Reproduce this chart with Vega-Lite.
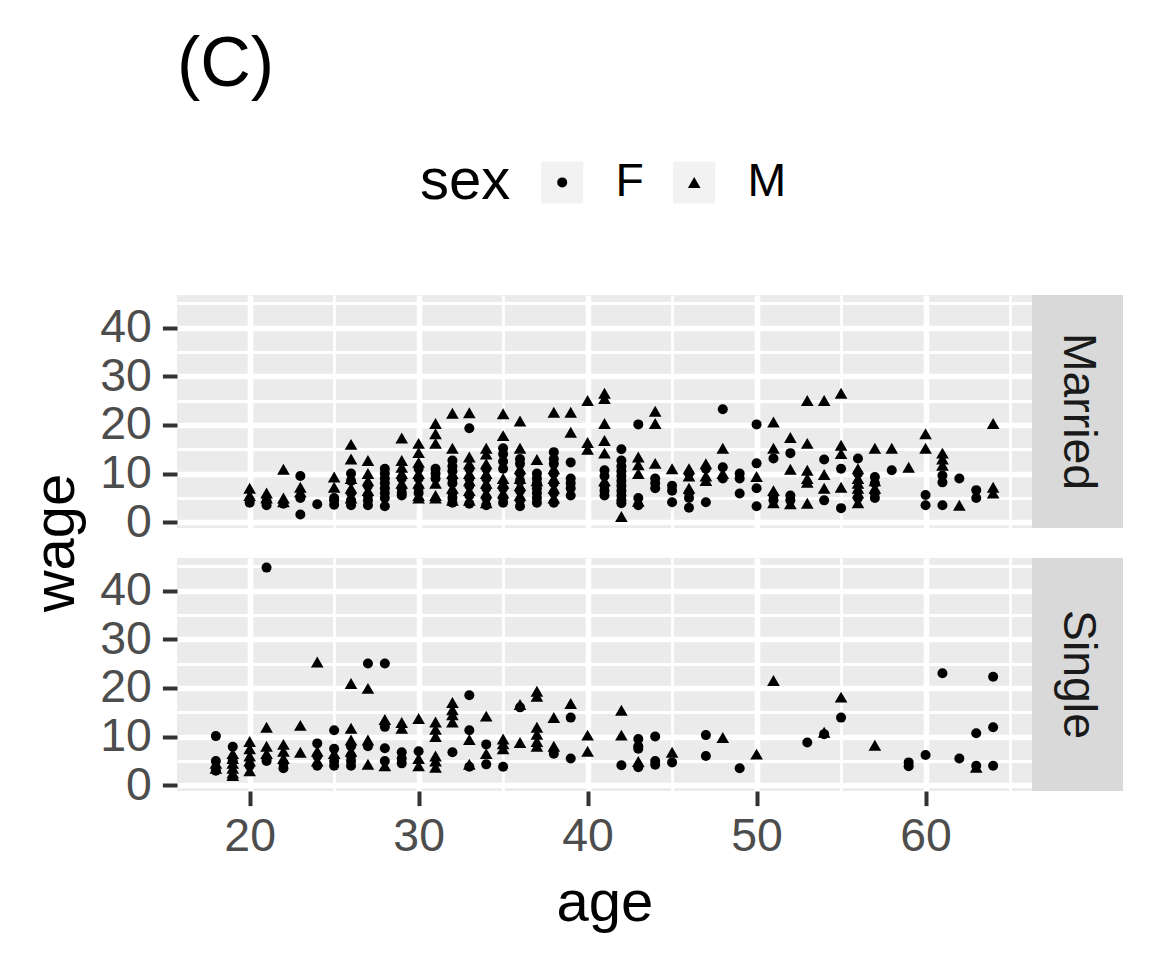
{
  "$schema": "https://vega.github.io/schema/vega-lite/v6.json",
  "background": "white",
  "padding": {"left": 27, "top": 30, "right": 29, "bottom": 20},
  "bounds": "flush",
  "columns": 2,
  "spacing": {"row": 30, "column": 0},
  "title": {"text": "(C)", "anchor": "start", "frame": "group", "fontSize": 70, "font": "Liberation Sans", "fontWeight": "normal", "color": "black", "offset": 58},
  "config": {
    "font": "Liberation Sans",
    "view": {"fill": "#ebebeb", "stroke": null},
    "axis": {"domain": false, "gridColor": "white", "labelFont": "Liberation Sans", "labelFontSize": 46.4, "labelColor": "#4d4d4d", "tickColor": "#333333", "tickWidth": 4, "tickSize": 14.6, "titleFont": "Liberation Sans", "titleFontSize": 58, "titleFontWeight": "normal", "titleColor": "black"}
  },
  "datasets": {
    "married": [
      {"age":20,"wage":7,"sex":"M"},{"age":20,"wage":5.5,"sex":"M"},{"age":20,"wage":4.5,"sex":"F"},{"age":20,"wage":4,"sex":"F"},
      {"age":21,"wage":6,"sex":"M"},{"age":21,"wage":5,"sex":"M"},{"age":21,"wage":4.3,"sex":"F"},{"age":21,"wage":3.5,"sex":"F"},
      {"age":22,"wage":10.9,"sex":"M"},{"age":22,"wage":5,"sex":"M"},{"age":22,"wage":4.2,"sex":"M"},{"age":22,"wage":3.8,"sex":"F"},
      {"age":23,"wage":9.5,"sex":"F"},{"age":23,"wage":7.2,"sex":"M"},{"age":23,"wage":6.2,"sex":"M"},{"age":23,"wage":5,"sex":"F"},{"age":23,"wage":1.6,"sex":"F"},
      {"age":24,"wage":3.7,"sex":"F"},
      {"age":25,"wage":9.3,"sex":"M"},{"age":25,"wage":7.2,"sex":"M"},{"age":25,"wage":5,"sex":"F"},{"age":25,"wage":4.5,"sex":"F"},{"age":25,"wage":3.6,"sex":"F"},
      {"age":26,"wage":16,"sex":"M"},{"age":26,"wage":13,"sex":"M"},{"age":26,"wage":10,"sex":"F"},{"age":26,"wage":9,"sex":"M"},{"age":26,"wage":8.5,"sex":"F"},{"age":26,"wage":7,"sex":"M"},{"age":26,"wage":6,"sex":"F"},{"age":26,"wage":5,"sex":"M"},{"age":26,"wage":4.5,"sex":"F"},{"age":26,"wage":3.5,"sex":"F"},
      {"age":27,"wage":12.7,"sex":"M"},{"age":27,"wage":10,"sex":"M"},{"age":27,"wage":8.5,"sex":"M"},{"age":27,"wage":7.5,"sex":"F"},{"age":27,"wage":6.5,"sex":"M"},{"age":27,"wage":5.5,"sex":"F"},{"age":27,"wage":4.5,"sex":"F"},{"age":27,"wage":3.5,"sex":"F"},
      {"age":28,"wage":11,"sex":"F"},{"age":28,"wage":10,"sex":"F"},{"age":28,"wage":9,"sex":"F"},{"age":28,"wage":8,"sex":"F"},{"age":28,"wage":7,"sex":"F"},{"age":28,"wage":6,"sex":"F"},{"age":28,"wage":5,"sex":"F"},{"age":28,"wage":3.3,"sex":"F"},
      {"age":29,"wage":17.3,"sex":"M"},{"age":29,"wage":12.7,"sex":"M"},{"age":29,"wage":11.3,"sex":"M"},{"age":29,"wage":10,"sex":"M"},{"age":29,"wage":9,"sex":"F"},{"age":29,"wage":8,"sex":"M"},{"age":29,"wage":7,"sex":"F"},{"age":29,"wage":6,"sex":"F"},{"age":29,"wage":5.5,"sex":"F"},
      {"age":30,"wage":16.2,"sex":"M"},{"age":30,"wage":14.3,"sex":"M"},{"age":30,"wage":12.3,"sex":"M"},{"age":30,"wage":11,"sex":"F"},{"age":30,"wage":10,"sex":"M"},{"age":30,"wage":9,"sex":"F"},{"age":30,"wage":8,"sex":"M"},{"age":30,"wage":7,"sex":"F"},{"age":30,"wage":6,"sex":"F"},{"age":30,"wage":5.5,"sex":"M"},{"age":30,"wage":5,"sex":"M"},
      {"age":31,"wage":20.3,"sex":"M"},{"age":31,"wage":18.2,"sex":"M"},{"age":31,"wage":16.2,"sex":"M"},{"age":31,"wage":11,"sex":"F"},{"age":31,"wage":10,"sex":"F"},{"age":31,"wage":9,"sex":"F"},{"age":31,"wage":8,"sex":"M"},{"age":31,"wage":5.5,"sex":"M"},{"age":31,"wage":5,"sex":"M"},
      {"age":32,"wage":22.4,"sex":"M"},{"age":32,"wage":15.2,"sex":"M"},{"age":32,"wage":12.7,"sex":"F"},{"age":32,"wage":11.5,"sex":"F"},{"age":32,"wage":10.5,"sex":"F"},{"age":32,"wage":10,"sex":"M"},{"age":32,"wage":9,"sex":"F"},{"age":32,"wage":8,"sex":"F"},{"age":32,"wage":7,"sex":"M"},{"age":32,"wage":6,"sex":"F"},{"age":32,"wage":5,"sex":"F"},{"age":32,"wage":4.5,"sex":"M"},{"age":32,"wage":4,"sex":"F"},
      {"age":33,"wage":22.5,"sex":"M"},{"age":33,"wage":19.3,"sex":"F"},{"age":33,"wage":13.4,"sex":"M"},{"age":33,"wage":12,"sex":"M"},{"age":33,"wage":11,"sex":"F"},{"age":33,"wage":10,"sex":"M"},{"age":33,"wage":9,"sex":"F"},{"age":33,"wage":8.5,"sex":"M"},{"age":33,"wage":7.5,"sex":"F"},{"age":33,"wage":6.5,"sex":"M"},{"age":33,"wage":5.5,"sex":"F"},{"age":33,"wage":4.5,"sex":"M"},{"age":33,"wage":3.8,"sex":"F"},
      {"age":34,"wage":15.2,"sex":"M"},{"age":34,"wage":14,"sex":"M"},{"age":34,"wage":12,"sex":"M"},{"age":34,"wage":11,"sex":"F"},{"age":34,"wage":10,"sex":"M"},{"age":34,"wage":9,"sex":"F"},{"age":34,"wage":8,"sex":"M"},{"age":34,"wage":7,"sex":"F"},{"age":34,"wage":6,"sex":"M"},{"age":34,"wage":5,"sex":"F"},{"age":34,"wage":4,"sex":"M"},{"age":34,"wage":3.5,"sex":"F"},
      {"age":35,"wage":22.3,"sex":"M"},{"age":35,"wage":17.8,"sex":"M"},{"age":35,"wage":15.2,"sex":"F"},{"age":35,"wage":14,"sex":"F"},{"age":35,"wage":12.5,"sex":"F"},{"age":35,"wage":11,"sex":"F"},{"age":35,"wage":9,"sex":"M"},{"age":35,"wage":8,"sex":"M"},{"age":35,"wage":7,"sex":"F"},{"age":35,"wage":6,"sex":"M"},{"age":35,"wage":5,"sex":"F"},{"age":35,"wage":4,"sex":"F"},
      {"age":36,"wage":20.8,"sex":"M"},{"age":36,"wage":15.2,"sex":"M"},{"age":36,"wage":13,"sex":"F"},{"age":36,"wage":12,"sex":"F"},{"age":36,"wage":11,"sex":"M"},{"age":36,"wage":10,"sex":"F"},{"age":36,"wage":9,"sex":"M"},{"age":36,"wage":8.5,"sex":"F"},{"age":36,"wage":7.5,"sex":"M"},{"age":36,"wage":6.5,"sex":"F"},{"age":36,"wage":5.5,"sex":"M"},{"age":36,"wage":4.5,"sex":"F"},{"age":36,"wage":3.3,"sex":"F"},
      {"age":37,"wage":12.9,"sex":"M"},{"age":37,"wage":10,"sex":"F"},{"age":37,"wage":9,"sex":"F"},{"age":37,"wage":8.5,"sex":"M"},{"age":37,"wage":8,"sex":"F"},{"age":37,"wage":7,"sex":"F"},{"age":37,"wage":6,"sex":"F"},{"age":37,"wage":5,"sex":"F"},{"age":37,"wage":4,"sex":"F"},
      {"age":38,"wage":22.6,"sex":"M"},{"age":38,"wage":14.4,"sex":"F"},{"age":38,"wage":13,"sex":"F"},{"age":38,"wage":12,"sex":"F"},{"age":38,"wage":11,"sex":"M"},{"age":38,"wage":10,"sex":"F"},{"age":38,"wage":9,"sex":"M"},{"age":38,"wage":8,"sex":"F"},{"age":38,"wage":7,"sex":"M"},{"age":38,"wage":6,"sex":"F"},{"age":38,"wage":5,"sex":"M"},{"age":38,"wage":4,"sex":"F"},
      {"age":39,"wage":22.6,"sex":"M"},{"age":39,"wage":18.5,"sex":"M"},{"age":39,"wage":12.3,"sex":"F"},{"age":39,"wage":9,"sex":"F"},{"age":39,"wage":8,"sex":"F"},{"age":39,"wage":7,"sex":"F"},{"age":39,"wage":5.5,"sex":"F"},
      {"age":40,"wage":25,"sex":"M"},{"age":40,"wage":16.4,"sex":"M"},{"age":40,"wage":15,"sex":"M"},
      {"age":41,"wage":26.5,"sex":"M"},{"age":41,"wage":25.4,"sex":"M"},{"age":41,"wage":20.3,"sex":"M"},{"age":41,"wage":16.8,"sex":"M"},{"age":41,"wage":14.2,"sex":"M"},{"age":41,"wage":10.7,"sex":"F"},{"age":41,"wage":9.5,"sex":"F"},{"age":41,"wage":8.5,"sex":"M"},{"age":41,"wage":7.5,"sex":"F"},{"age":41,"wage":6.5,"sex":"F"},{"age":41,"wage":5.5,"sex":"F"},
      {"age":42,"wage":15,"sex":"F"},{"age":42,"wage":12.7,"sex":"F"},{"age":42,"wage":11.5,"sex":"F"},{"age":42,"wage":10.5,"sex":"F"},{"age":42,"wage":9.5,"sex":"F"},{"age":42,"wage":8.5,"sex":"F"},{"age":42,"wage":7.5,"sex":"F"},{"age":42,"wage":6.5,"sex":"F"},{"age":42,"wage":5.5,"sex":"F"},{"age":42,"wage":4.5,"sex":"F"},{"age":42,"wage":3.9,"sex":"F"},{"age":42,"wage":1.2,"sex":"M"},
      {"age":43,"wage":20.1,"sex":"F"},{"age":43,"wage":13.4,"sex":"M"},{"age":43,"wage":11.8,"sex":"M"},{"age":43,"wage":10,"sex":"M"},{"age":43,"wage":5,"sex":"F"},{"age":43,"wage":4.3,"sex":"M"},{"age":43,"wage":3.5,"sex":"F"},
      {"age":44,"wage":22.8,"sex":"M"},{"age":44,"wage":20.3,"sex":"M"},{"age":44,"wage":12.1,"sex":"M"},{"age":44,"wage":9,"sex":"F"},{"age":44,"wage":8,"sex":"F"},{"age":44,"wage":7,"sex":"F"},
      {"age":45,"wage":11,"sex":"M"},{"age":45,"wage":7.5,"sex":"F"},{"age":45,"wage":6.5,"sex":"F"},{"age":45,"wage":4.1,"sex":"F"},
      {"age":46,"wage":11,"sex":"M"},{"age":46,"wage":10,"sex":"F"},{"age":46,"wage":9.5,"sex":"M"},{"age":46,"wage":7,"sex":"M"},{"age":46,"wage":6,"sex":"F"},{"age":46,"wage":5,"sex":"F"},{"age":46,"wage":3,"sex":"F"},
      {"age":47,"wage":12,"sex":"M"},{"age":47,"wage":11,"sex":"F"},{"age":47,"wage":9.5,"sex":"M"},{"age":47,"wage":8.6,"sex":"M"},{"age":47,"wage":4.1,"sex":"F"},
      {"age":48,"wage":23.2,"sex":"F"},{"age":48,"wage":15.2,"sex":"M"},{"age":48,"wage":11.3,"sex":"F"},{"age":48,"wage":10,"sex":"M"},{"age":48,"wage":9,"sex":"F"},
      {"age":49,"wage":10,"sex":"F"},{"age":49,"wage":9,"sex":"F"},{"age":49,"wage":5.9,"sex":"F"},
      {"age":50,"wage":20.1,"sex":"F"},{"age":50,"wage":12.1,"sex":"F"},{"age":50,"wage":9.4,"sex":"M"},{"age":50,"wage":7,"sex":"F"},{"age":50,"wage":3.3,"sex":"F"},
      {"age":51,"wage":20.6,"sex":"M"},{"age":51,"wage":15.2,"sex":"M"},{"age":51,"wage":13.1,"sex":"F"},{"age":51,"wage":6.5,"sex":"M"},{"age":51,"wage":5.5,"sex":"F"},{"age":51,"wage":4.5,"sex":"F"},{"age":51,"wage":4,"sex":"M"},
      {"age":52,"wage":17.4,"sex":"M"},{"age":52,"wage":14.2,"sex":"F"},{"age":52,"wage":10.9,"sex":"M"},{"age":52,"wage":5.5,"sex":"F"},{"age":52,"wage":4.5,"sex":"F"},{"age":52,"wage":3.8,"sex":"M"},
      {"age":53,"wage":25,"sex":"M"},{"age":53,"wage":16.2,"sex":"M"},{"age":53,"wage":10.7,"sex":"M"},{"age":53,"wage":9,"sex":"M"},{"age":53,"wage":8.2,"sex":"M"},{"age":53,"wage":3.9,"sex":"M"},
      {"age":54,"wage":25,"sex":"M"},{"age":54,"wage":12.9,"sex":"F"},{"age":54,"wage":9.8,"sex":"M"},{"age":54,"wage":7,"sex":"M"},{"age":54,"wage":4.5,"sex":"F"},
      {"age":55,"wage":26.5,"sex":"M"},{"age":55,"wage":15.8,"sex":"M"},{"age":55,"wage":14.1,"sex":"M"},{"age":55,"wage":11,"sex":"F"},{"age":55,"wage":7.2,"sex":"M"},{"age":55,"wage":2.9,"sex":"F"},
      {"age":56,"wage":13.1,"sex":"F"},{"age":56,"wage":11,"sex":"M"},{"age":56,"wage":10,"sex":"F"},{"age":56,"wage":9,"sex":"M"},{"age":56,"wage":8,"sex":"M"},{"age":56,"wage":7,"sex":"M"},{"age":56,"wage":6,"sex":"M"},{"age":56,"wage":5,"sex":"F"},{"age":56,"wage":4,"sex":"M"},
      {"age":57,"wage":15.2,"sex":"M"},{"age":57,"wage":9.3,"sex":"F"},{"age":57,"wage":8.5,"sex":"M"},{"age":57,"wage":8,"sex":"F"},{"age":57,"wage":7,"sex":"M"},{"age":57,"wage":6,"sex":"F"},{"age":57,"wage":5,"sex":"F"},
      {"age":58,"wage":15.2,"sex":"M"},{"age":58,"wage":10.7,"sex":"F"},
      {"age":59,"wage":11.3,"sex":"M"},
      {"age":60,"wage":18.2,"sex":"M"},{"age":60,"wage":15.2,"sex":"M"},{"age":60,"wage":5.6,"sex":"F"},{"age":60,"wage":3.5,"sex":"F"},
      {"age":61,"wage":14.2,"sex":"M"},{"age":61,"wage":13,"sex":"M"},{"age":61,"wage":11.7,"sex":"M"},{"age":61,"wage":9.6,"sex":"F"},{"age":61,"wage":8.2,"sex":"F"},{"age":61,"wage":3.5,"sex":"F"},
      {"age":62,"wage":9,"sex":"F"},{"age":62,"wage":3.5,"sex":"M"},
      {"age":63,"wage":6.6,"sex":"F"},{"age":63,"wage":5,"sex":"F"},
      {"age":64,"wage":20.3,"sex":"M"},{"age":64,"wage":7.2,"sex":"M"},{"age":64,"wage":6,"sex":"M"}
    ],
    "single": [
      {"age":18,"wage":10.1,"sex":"F"},{"age":18,"wage":5,"sex":"F"},{"age":18,"wage":4.5,"sex":"M"},{"age":18,"wage":3.5,"sex":"M"},{"age":18,"wage":3,"sex":"F"},
      {"age":19,"wage":7.9,"sex":"F"},{"age":19,"wage":6.5,"sex":"M"},{"age":19,"wage":5.5,"sex":"M"},{"age":19,"wage":5,"sex":"F"},{"age":19,"wage":4.5,"sex":"M"},{"age":19,"wage":3.5,"sex":"M"},{"age":19,"wage":2.5,"sex":"M"},{"age":19,"wage":2,"sex":"M"},
      {"age":20,"wage":9,"sex":"M"},{"age":20,"wage":7.5,"sex":"M"},{"age":20,"wage":6,"sex":"M"},{"age":20,"wage":5,"sex":"M"},{"age":20,"wage":4,"sex":"F"},{"age":20,"wage":3,"sex":"M"},
      {"age":21,"wage":44.7,"sex":"F"},{"age":21,"wage":11.9,"sex":"M"},{"age":21,"wage":8,"sex":"M"},{"age":21,"wage":6.5,"sex":"M"},{"age":21,"wage":5.5,"sex":"F"},{"age":21,"wage":5,"sex":"F"},
      {"age":22,"wage":8.4,"sex":"M"},{"age":22,"wage":7,"sex":"M"},{"age":22,"wage":5.5,"sex":"M"},{"age":22,"wage":4.5,"sex":"F"},{"age":22,"wage":3.5,"sex":"F"},
      {"age":23,"wage":12.3,"sex":"M"},{"age":23,"wage":6.8,"sex":"M"},
      {"age":24,"wage":25.3,"sex":"M"},{"age":24,"wage":8.6,"sex":"F"},{"age":24,"wage":7,"sex":"M"},{"age":24,"wage":6,"sex":"F"},{"age":24,"wage":5,"sex":"M"},{"age":24,"wage":4,"sex":"F"},
      {"age":25,"wage":11.3,"sex":"F"},{"age":25,"wage":7.5,"sex":"F"},{"age":25,"wage":6.5,"sex":"M"},{"age":25,"wage":5,"sex":"F"},{"age":25,"wage":4,"sex":"F"},
      {"age":26,"wage":20.9,"sex":"M"},{"age":26,"wage":11.7,"sex":"M"},{"age":26,"wage":9.3,"sex":"M"},{"age":26,"wage":8,"sex":"F"},{"age":26,"wage":7,"sex":"M"},{"age":26,"wage":6,"sex":"F"},{"age":26,"wage":5,"sex":"F"},{"age":26,"wage":4,"sex":"F"},
      {"age":27,"wage":25,"sex":"F"},{"age":27,"wage":19.9,"sex":"M"},{"age":27,"wage":9.3,"sex":"M"},{"age":27,"wage":8,"sex":"F"},{"age":27,"wage":4.3,"sex":"M"},
      {"age":28,"wage":25,"sex":"F"},{"age":28,"wage":13.5,"sex":"M"},{"age":28,"wage":12,"sex":"F"},{"age":28,"wage":7.6,"sex":"F"},{"age":28,"wage":5,"sex":"F"},{"age":28,"wage":4,"sex":"M"},
      {"age":29,"wage":12.9,"sex":"M"},{"age":29,"wage":11.7,"sex":"M"},{"age":29,"wage":6.8,"sex":"F"},{"age":29,"wage":5.5,"sex":"F"},{"age":29,"wage":4.5,"sex":"F"},
      {"age":30,"wage":13.7,"sex":"M"},{"age":30,"wage":7,"sex":"F"},{"age":30,"wage":5.5,"sex":"M"},{"age":30,"wage":4,"sex":"M"},
      {"age":31,"wage":13,"sex":"M"},{"age":31,"wage":11.5,"sex":"M"},{"age":31,"wage":10,"sex":"M"},{"age":31,"wage":6,"sex":"M"},{"age":31,"wage":5,"sex":"M"},{"age":31,"wage":3.7,"sex":"M"},
      {"age":32,"wage":17,"sex":"M"},{"age":32,"wage":15.5,"sex":"M"},{"age":32,"wage":14.5,"sex":"M"},{"age":32,"wage":13,"sex":"M"},{"age":32,"wage":6.8,"sex":"F"},
      {"age":33,"wage":18.5,"sex":"F"},{"age":33,"wage":11.3,"sex":"F"},{"age":33,"wage":9.4,"sex":"M"},{"age":33,"wage":4.3,"sex":"M"},{"age":33,"wage":3.8,"sex":"F"},
      {"age":34,"wage":14.2,"sex":"M"},{"age":34,"wage":8.4,"sex":"F"},{"age":34,"wage":6.5,"sex":"M"},{"age":34,"wage":4.3,"sex":"F"},
      {"age":35,"wage":9.5,"sex":"M"},{"age":35,"wage":8.5,"sex":"M"},{"age":35,"wage":7.5,"sex":"M"},{"age":35,"wage":3.8,"sex":"F"},
      {"age":36,"wage":16.6,"sex":"M"},{"age":36,"wage":16,"sex":"F"},{"age":36,"wage":8.8,"sex":"M"},
      {"age":37,"wage":19.3,"sex":"M"},{"age":37,"wage":18.3,"sex":"M"},{"age":37,"wage":11.9,"sex":"M"},{"age":37,"wage":10.5,"sex":"M"},{"age":37,"wage":9,"sex":"M"},{"age":37,"wage":8,"sex":"M"},
      {"age":38,"wage":13.9,"sex":"M"},{"age":38,"wage":8,"sex":"M"},{"age":38,"wage":6.5,"sex":"F"},
      {"age":39,"wage":16.8,"sex":"M"},{"age":39,"wage":13.9,"sex":"F"},{"age":39,"wage":5.5,"sex":"F"},
      {"age":40,"wage":10.3,"sex":"M"},{"age":40,"wage":7,"sex":"M"},
      {"age":42,"wage":15.4,"sex":"M"},{"age":42,"wage":10.3,"sex":"M"},{"age":42,"wage":4.1,"sex":"F"},
      {"age":43,"wage":9.5,"sex":"F"},{"age":43,"wage":8,"sex":"F"},{"age":43,"wage":7.5,"sex":"F"},{"age":43,"wage":4.9,"sex":"M"},{"age":43,"wage":3.7,"sex":"F"},
      {"age":44,"wage":10,"sex":"F"},{"age":44,"wage":5,"sex":"F"},{"age":44,"wage":4.2,"sex":"F"},
      {"age":45,"wage":6.8,"sex":"M"},{"age":45,"wage":4.7,"sex":"F"},
      {"age":47,"wage":10.3,"sex":"F"},{"age":47,"wage":6,"sex":"F"},
      {"age":48,"wage":9.8,"sex":"M"},
      {"age":49,"wage":3.5,"sex":"F"},
      {"age":50,"wage":6.4,"sex":"M"},
      {"age":51,"wage":21.5,"sex":"M"},
      {"age":53,"wage":8.8,"sex":"F"},
      {"age":54,"wage":10.9,"sex":"M"},{"age":54,"wage":10.5,"sex":"F"},
      {"age":55,"wage":18.1,"sex":"M"},{"age":55,"wage":13.9,"sex":"F"},
      {"age":57,"wage":8.2,"sex":"M"},
      {"age":59,"wage":4.7,"sex":"F"},{"age":59,"wage":3.9,"sex":"F"},
      {"age":60,"wage":6.2,"sex":"F"},
      {"age":61,"wage":23,"sex":"F"},
      {"age":62,"wage":5.5,"sex":"F"},
      {"age":63,"wage":10.7,"sex":"F"},{"age":63,"wage":4,"sex":"F"},{"age":63,"wage":3.7,"sex":"M"},
      {"age":64,"wage":22.3,"sex":"F"},{"age":64,"wage":11.9,"sex":"F"},{"age":64,"wage":4,"sex":"F"}
    ]
  },
  "concat": [
    {
      "width": 855, "height": 233,
      "data": {"name": "married"},
      "layer": [
        {
          "mark": {"type": "point", "filled": true, "opacity": 0},
          "encoding": {
            "x": {"field": "age", "type": "quantitative", "scale": {"domain": [15.7, 66.3], "nice": false, "zero": false}, "axis": {"orient": "top", "values": [25, 35, 45, 55, 65], "labels": false, "ticks": false, "title": null, "grid": true, "gridWidth": 2.8}},
            "y": {"field": "wage", "type": "quantitative", "scale": {"domain": [-1.175, 46.675], "nice": false, "zero": false}, "axis": {"orient": "right", "values": [5, 15, 25, 35, 45], "labels": false, "ticks": false, "title": null, "grid": true, "gridWidth": 2.8}},
            "color": {"field": "sex", "type": "nominal", "scale": {"range": ["#f2f2f2", "#f2f2f2"]},
              "legend": {"orient": "none", "legendX": 243, "legendY": -136, "direction": "horizontal", "title": "sex", "titleOrient": "left", "titleAnchor": "middle", "titleBaseline": "middle", "titleFontSize": 58, "titleFont": "Liberation Sans", "titleFontWeight": "normal", "titleColor": "black", "titlePadding": 28, "labelFontSize": 46.4, "labelFont": "Liberation Sans", "labelColor": "black", "labelOffset": 30, "columnPadding": 27, "symbolOffset": 0, "padding": 0, "titleOpacity": 0, "labelOpacity": 0, "symbolType": "square", "symbolSize": 1764, "symbolStrokeWidth": 0, "symbolOpacity": 1, "zindex": 1}}
          }
        },
        {
          "mark": {"type": "point", "filled": true, "color": "black", "opacity": 1},
          "encoding": {
            "x": {"field": "age", "type": "quantitative", "scale": {"domain": [15.7, 66.3], "nice": false, "zero": false}, "axis": {"orient": "bottom", "values": [20, 30, 40, 50, 60], "labels": false, "ticks": false, "title": null, "grid": true, "gridWidth": 5.6}},
            "y": {"field": "wage", "type": "quantitative", "scale": {"domain": [-1.175, 46.675], "nice": false, "zero": false}, "axis": {"orient": "left", "values": [0, 10, 20, 30, 40], "title": "wage", "titleY": 247.5, "titlePadding": 14, "labelPadding": 11, "grid": true, "gridWidth": 5.6}},
            "shape": {"field": "sex", "type": "nominal", "scale": {"domain": ["F", "M"], "range": ["circle", "triangle-up"]},
              "legend": {"orient": "none", "legendX": 243, "legendY": -136, "direction": "horizontal", "title": "sex", "titleOrient": "left", "titleAnchor": "middle", "titleBaseline": "middle", "titleFontSize": 58, "titleFont": "Liberation Sans", "titleFontWeight": "normal", "titleColor": "black", "titlePadding": 28, "labelFontSize": 46.4, "labelFont": "Liberation Sans", "labelColor": "black", "labelOffset": 30, "columnPadding": 27, "symbolOffset": 0, "padding": 0, "zindex": 2}},
            "size": {"field": "sex", "type": "nominal", "scale": {"type": "ordinal", "domain": ["F", "M"], "range": [100, 160]},
              "legend": {"orient": "none", "legendX": 243, "legendY": -136, "direction": "horizontal", "title": "sex", "titleOrient": "left", "titleAnchor": "middle", "titleBaseline": "middle", "titleFontSize": 58, "titleFont": "Liberation Sans", "titleFontWeight": "normal", "titleColor": "black", "titlePadding": 28, "labelFontSize": 46.4, "labelFont": "Liberation Sans", "labelColor": "black", "labelOffset": 30, "columnPadding": 27, "symbolOffset": 0, "padding": 0, "zindex": 2}}
          }
        }
      ],
      "resolve": {"axis": {"x": "independent", "y": "independent"}}
    },
    {
      "width": 91, "height": 233,
      "view": {"fill": "#d9d9d9", "stroke": null},
      "data": {"values": [{"panel": "Married"}]},
      "mark": {"type": "text", "angle": 90, "fontSize": 46.4, "color": "#1a1a1a", "font": "Liberation Sans", "align": "center", "baseline": "middle"},
      "encoding": {"text": {"field": "panel", "type": "nominal"}}
    },
    {
      "width": 855, "height": 233,
      "data": {"name": "single"},
      "layer": [
        {
          "mark": {"type": "point", "filled": true, "color": "black", "opacity": 0},
          "encoding": {
            "x": {"field": "age", "type": "quantitative", "scale": {"domain": [15.7, 66.3], "nice": false, "zero": false}, "axis": {"orient": "top", "values": [25, 35, 45, 55, 65], "labels": false, "ticks": false, "title": null, "grid": true, "gridWidth": 2.8}},
            "y": {"field": "wage", "type": "quantitative", "scale": {"domain": [-1.175, 46.675], "nice": false, "zero": false}, "axis": {"orient": "right", "values": [5, 15, 25, 35, 45], "labels": false, "ticks": false, "title": null, "grid": true, "gridWidth": 2.8}}
          }
        },
        {
          "mark": {"type": "point", "filled": true, "color": "black", "opacity": 1},
          "encoding": {
            "x": {"field": "age", "type": "quantitative", "scale": {"domain": [15.7, 66.3], "nice": false, "zero": false}, "axis": {"orient": "bottom", "values": [20, 30, 40, 50, 60], "title": "age", "labelPadding": 8, "titlePadding": 14, "grid": true, "gridWidth": 5.6}},
            "y": {"field": "wage", "type": "quantitative", "scale": {"domain": [-1.175, 46.675], "nice": false, "zero": false}, "axis": {"orient": "left", "values": [0, 10, 20, 30, 40], "title": null, "labelPadding": 11, "grid": true, "gridWidth": 5.6}},
            "shape": {"field": "sex", "type": "nominal", "scale": {"domain": ["F", "M"], "range": ["circle", "triangle-up"]}},
            "size": {"field": "sex", "type": "nominal", "scale": {"type": "ordinal", "domain": ["F", "M"], "range": [100, 160]}}
          }
        }
      ],
      "resolve": {"axis": {"x": "independent", "y": "independent"}}
    },
    {
      "width": 91, "height": 233,
      "view": {"fill": "#d9d9d9", "stroke": null},
      "data": {"values": [{"panel": "Single"}]},
      "mark": {"type": "text", "angle": 90, "fontSize": 46.4, "color": "#1a1a1a", "font": "Liberation Sans", "align": "center", "baseline": "middle"},
      "encoding": {"text": {"field": "panel", "type": "nominal"}}
    }
  ]
}
